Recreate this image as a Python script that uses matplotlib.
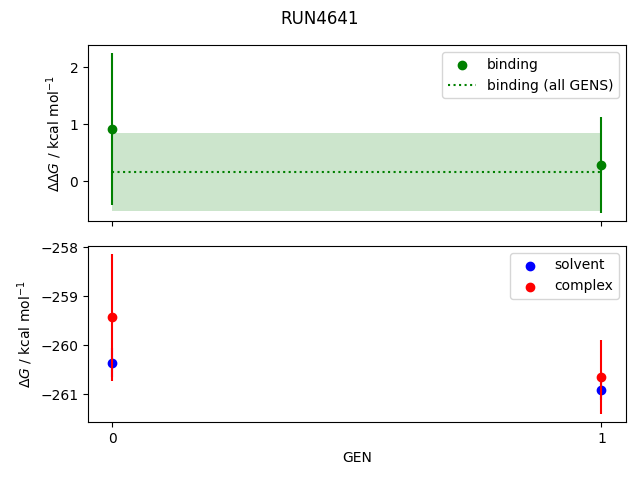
import matplotlib
matplotlib.use("Agg")
import matplotlib.pyplot as plt
import numpy as np

gens = [0, 1]
binding = [0.92, 0.28]
binding_err = [1.33, 0.84]
binding_all = 0.16
binding_all_err = 0.69
solvent = [-260.35, -260.92]
solvent_err = [0.3, 0.2]
complex_ = [-259.43, -260.64]
complex_err = [1.30, 0.76]

fig, (ax1, ax2) = plt.subplots(2, 1, sharex=True, figsize=(6.4, 4.8), dpi=100)
fig.suptitle("RUN4641")

ax1.errorbar(gens, binding, yerr=binding_err, color="green", ls="none")
ax1.scatter(gens, binding, color="green", label="binding")
ax1.hlines(binding_all, gens[0], gens[-1], color="green", ls=":", label="binding (all GENS)")
ax1.fill_between(gens, binding_all - binding_all_err, binding_all + binding_all_err,
                 color="green", alpha=0.2, lw=0)
ax1.set_ylabel(r"$\Delta\Delta G$ / kcal mol$^{-1}$")
ax1.legend()

ax2.errorbar(gens, solvent, yerr=solvent_err, color="blue", ls="none")
ax2.errorbar(gens, complex_, yerr=complex_err, color="red", ls="none")
ax2.scatter(gens, solvent, color="blue", label="solvent")
ax2.scatter(gens, complex_, color="red", label="complex")
ax2.set_ylabel(r"$\Delta G$ / kcal mol$^{-1}$")
ax2.set_xlabel("GEN")
ax2.set_xticks(gens)
ax2.legend()

fig.subplots_adjust(left=0.1375, right=0.978, top=0.906, bottom=0.121, hspace=0.14)
fig.savefig("out.png")
